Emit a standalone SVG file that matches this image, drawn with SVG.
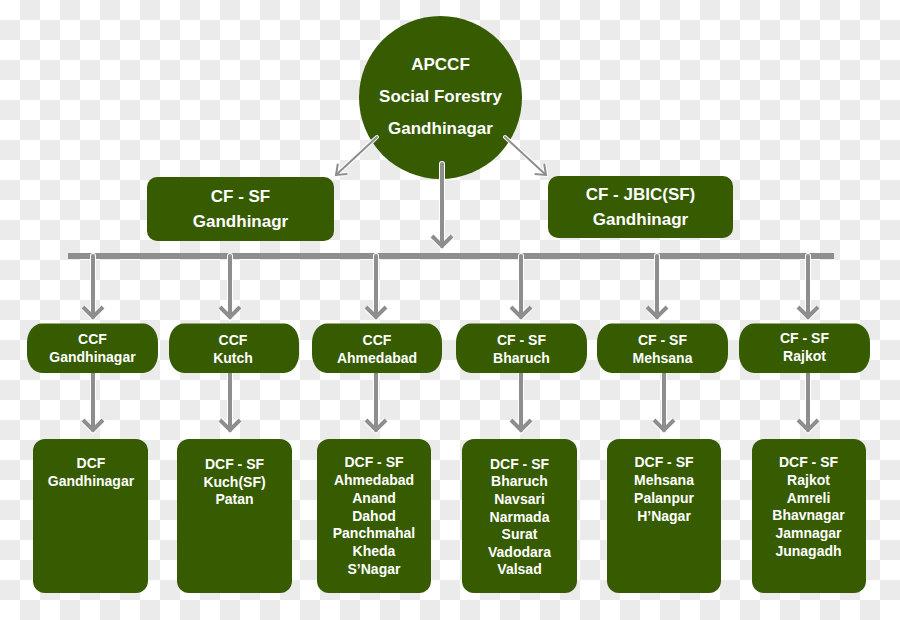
<svg xmlns="http://www.w3.org/2000/svg" width="900" height="620" viewBox="0 0 900 620">
<style>
.n{fill:#365b01}
.t{fill:#fff;font-family:"Liberation Sans",Arial,sans-serif;font-weight:bold;text-anchor:middle}
.big{font-size:17px}
.sm{font-size:14px}
.halo{stroke:#fff;fill:none;stroke-linecap:round}
.cn{stroke:#8e8e8e;fill:none;stroke-linecap:round}
.thick.halo{stroke-width:6}
.thick.cn{stroke-width:4}
.thin.halo{stroke-width:4}
.thin.cn{stroke-width:2}
</style>
<defs>
<pattern id="cb" width="40" height="40" patternUnits="userSpaceOnUse">
<rect width="40" height="40" fill="#fff"/>
<rect x="20" width="20" height="20" fill="#ebebeb"/>
<rect y="20" width="20" height="20" fill="#ebebeb"/>
</pattern>
<marker id="ah" viewBox="-4 -15 20 30" markerWidth="20" markerHeight="30" refX="10" refY="0" orient="auto" markerUnits="userSpaceOnUse">
<path d="M0,-10 L10,0 L0,10" fill="none" stroke="#8e8e8e" stroke-width="4" stroke-linejoin="miter"/>
</marker>
<marker id="ahw" viewBox="-4 -15 20 30" markerWidth="20" markerHeight="30" refX="10" refY="0" orient="auto" markerUnits="userSpaceOnUse">
<path d="M0,-10 L10,0 L0,10" fill="none" stroke="#fff" stroke-width="6" stroke-linejoin="miter"/>
</marker>
<marker id="as" viewBox="-3 -10 16 20" markerWidth="16" markerHeight="20" refX="10" refY="0" orient="auto" markerUnits="userSpaceOnUse">
<path d="M1,-7 L10,0 L1,7" fill="none" stroke="#8e8e8e" stroke-width="2"/>
</marker>
<marker id="asw" viewBox="-3 -10 16 20" markerWidth="16" markerHeight="20" refX="10" refY="0" orient="auto" markerUnits="userSpaceOnUse">
<path d="M1,-7 L10,0 L1,7" fill="none" stroke="#fff" stroke-width="4"/>
</marker>
</defs>
<rect width="900" height="620" fill="url(#cb)"/>

<g id="root">
<circle class="n" cx="440.5" cy="97.5" r="81.5"/>
<text class="t big" x="440.5" y="70">APCCF</text>
<text class="t big" x="440.5" y="102">Social Forestry</text>
<text class="t big" x="440.5" y="134">Gandhinagar</text>
</g>
<g id="cf-sf-gandhinagr">
<rect class="n" x="147" y="177" width="187" height="64" rx="10"/>
<text class="t big" x="240.5" y="202">CF - SF</text>
<text class="t big" x="240.5" y="227">Gandhinagr</text>
</g>
<g id="cf-jbic">
<rect class="n" x="548" y="176" width="185" height="62" rx="10"/>
<text class="t big" x="640.5" y="200">CF - JBIC(SF)</text>
<text class="t big" x="640.5" y="225">Gandhinagr</text>
</g>

<g id="connectors">
<rect x="68" y="253" width="766" height="6" fill="#8e8e8e"/>
<g class="halo-layer">
<path class="halo thin" d="M377,137 L336,175" marker-end="url(#asw)"/>
<path class="halo thin" d="M505,137 L546,175" marker-end="url(#asw)"/>
<path class="halo thick" d="M442,164 L442,246" marker-end="url(#ahw)"/>
<path class="halo thick" d="M93,256 L93,317" marker-end="url(#ahw)"/>
<path class="halo thick" d="M230,256 L230,317" marker-end="url(#ahw)"/>
<path class="halo thick" d="M376,256 L376,317" marker-end="url(#ahw)"/>
<path class="halo thick" d="M521,256 L521,317" marker-end="url(#ahw)"/>
<path class="halo thick" d="M657,256 L657,317" marker-end="url(#ahw)"/>
<path class="halo thick" d="M808,256 L808,317" marker-end="url(#ahw)"/>
<path class="halo thick" d="M93,370 L93,430" marker-end="url(#ahw)"/>
<path class="halo thick" d="M230,370 L230,430" marker-end="url(#ahw)"/>
<path class="halo thick" d="M376,370 L376,430" marker-end="url(#ahw)"/>
<path class="halo thick" d="M521,370 L521,430" marker-end="url(#ahw)"/>
<path class="halo thick" d="M664,370 L664,430" marker-end="url(#ahw)"/>
<path class="halo thick" d="M808,370 L808,430" marker-end="url(#ahw)"/>
</g>
<g class="line-layer">
<path class="cn thin" d="M377,137 L336,175" marker-end="url(#as)"/>
<path class="cn thin" d="M505,137 L546,175" marker-end="url(#as)"/>
<path class="cn thick" d="M442,164 L442,246" marker-end="url(#ah)"/>
<path class="cn thick" d="M93,256 L93,317" marker-end="url(#ah)"/>
<path class="cn thick" d="M230,256 L230,317" marker-end="url(#ah)"/>
<path class="cn thick" d="M376,256 L376,317" marker-end="url(#ah)"/>
<path class="cn thick" d="M521,256 L521,317" marker-end="url(#ah)"/>
<path class="cn thick" d="M657,256 L657,317" marker-end="url(#ah)"/>
<path class="cn thick" d="M808,256 L808,317" marker-end="url(#ah)"/>
<path class="cn thick" d="M93,370 L93,430" marker-end="url(#ah)"/>
<path class="cn thick" d="M230,370 L230,430" marker-end="url(#ah)"/>
<path class="cn thick" d="M376,370 L376,430" marker-end="url(#ah)"/>
<path class="cn thick" d="M521,370 L521,430" marker-end="url(#ah)"/>
<path class="cn thick" d="M664,370 L664,430" marker-end="url(#ah)"/>
<path class="cn thick" d="M808,370 L808,430" marker-end="url(#ah)"/>
</g>
</g>

<g id="ccf-gandhinagar">
<rect class="n" x="27" y="323.5" width="131" height="49.5" rx="15" ry="19"/>
<text class="t sm" x="92.5" y="344">CCF</text>
<text class="t sm" x="92.5" y="362">Gandhinagar</text>
</g>
<g id="ccf-kutch">
<rect class="n" x="169" y="323.5" width="130" height="49.5" rx="15" ry="19"/>
<text class="t sm" x="233" y="345">CCF</text>
<text class="t sm" x="233" y="363">Kutch</text>
</g>
<g id="ccf-ahmedabad">
<rect class="n" x="312" y="323.5" width="130" height="49.5" rx="15" ry="19"/>
<text class="t sm" x="377" y="345">CCF</text>
<text class="t sm" x="377" y="363">Ahmedabad</text>
</g>
<g id="cf-sf-bharuch">
<rect class="n" x="456" y="323.5" width="131" height="49.5" rx="15" ry="19"/>
<text class="t sm" x="521.5" y="345">CF - SF</text>
<text class="t sm" x="521.5" y="363">Bharuch</text>
</g>
<g id="cf-sf-mehsana">
<rect class="n" x="597" y="323.5" width="131" height="49.5" rx="15" ry="19"/>
<text class="t sm" x="662.5" y="345">CF - SF</text>
<text class="t sm" x="662.5" y="363">Mehsana</text>
</g>
<g id="cf-sf-rajkot">
<rect class="n" x="739" y="323.5" width="131" height="49.5" rx="15" ry="19"/>
<text class="t sm" x="804.5" y="343">CF - SF</text>
<text class="t sm" x="804.5" y="361">Rajkot</text>
</g>

<g id="dcf-gandhinagar">
<rect class="n" x="33" y="439" width="115" height="154" rx="12"/>
<text class="t sm" x="91" y="468">DCF</text>
<text class="t sm" x="91" y="486">Gandhinagar</text>
</g>
<g id="dcf-kutch">
<rect class="n" x="177" y="439" width="115" height="154" rx="12"/>
<text class="t sm" x="234.5" y="469">DCF - SF</text>
<text class="t sm" x="234.5" y="487">Kuch(SF)</text>
<text class="t sm" x="234.5" y="504">Patan</text>
</g>
<g id="dcf-ahmedabad">
<rect class="n" x="317" y="439" width="114" height="154" rx="12"/>
<text class="t sm" x="374" y="467">DCF - SF</text>
<text class="t sm" x="374" y="485">Ahmedabad</text>
<text class="t sm" x="374" y="503">Anand</text>
<text class="t sm" x="374" y="521">Dahod</text>
<text class="t sm" x="374" y="538">Panchmahal</text>
<text class="t sm" x="374" y="556">Kheda</text>
<text class="t sm" x="374" y="574">S’Nagar</text>
</g>
<g id="dcf-bharuch">
<rect class="n" x="462" y="439" width="115" height="154" rx="12"/>
<text class="t sm" x="519.5" y="469">DCF - SF</text>
<text class="t sm" x="519.5" y="486">Bharuch</text>
<text class="t sm" x="519.5" y="504">Navsari</text>
<text class="t sm" x="519.5" y="522">Narmada</text>
<text class="t sm" x="519.5" y="539">Surat</text>
<text class="t sm" x="519.5" y="557">Vadodara</text>
<text class="t sm" x="519.5" y="574">Valsad</text>
</g>
<g id="dcf-mehsana">
<rect class="n" x="607" y="439" width="114" height="154" rx="12"/>
<text class="t sm" x="664" y="467">DCF - SF</text>
<text class="t sm" x="664" y="485">Mehsana</text>
<text class="t sm" x="664" y="503">Palanpur</text>
<text class="t sm" x="664" y="521">H’Nagar</text>
</g>
<g id="dcf-rajkot">
<rect class="n" x="752" y="439" width="114" height="154" rx="12"/>
<text class="t sm" x="808.5" y="467">DCF - SF</text>
<text class="t sm" x="808.5" y="485">Rajkot</text>
<text class="t sm" x="808.5" y="503">Amreli</text>
<text class="t sm" x="808.5" y="520">Bhavnagar</text>
<text class="t sm" x="808.5" y="538">Jamnagar</text>
<text class="t sm" x="808.5" y="556">Junagadh</text>
</g>
</svg>
